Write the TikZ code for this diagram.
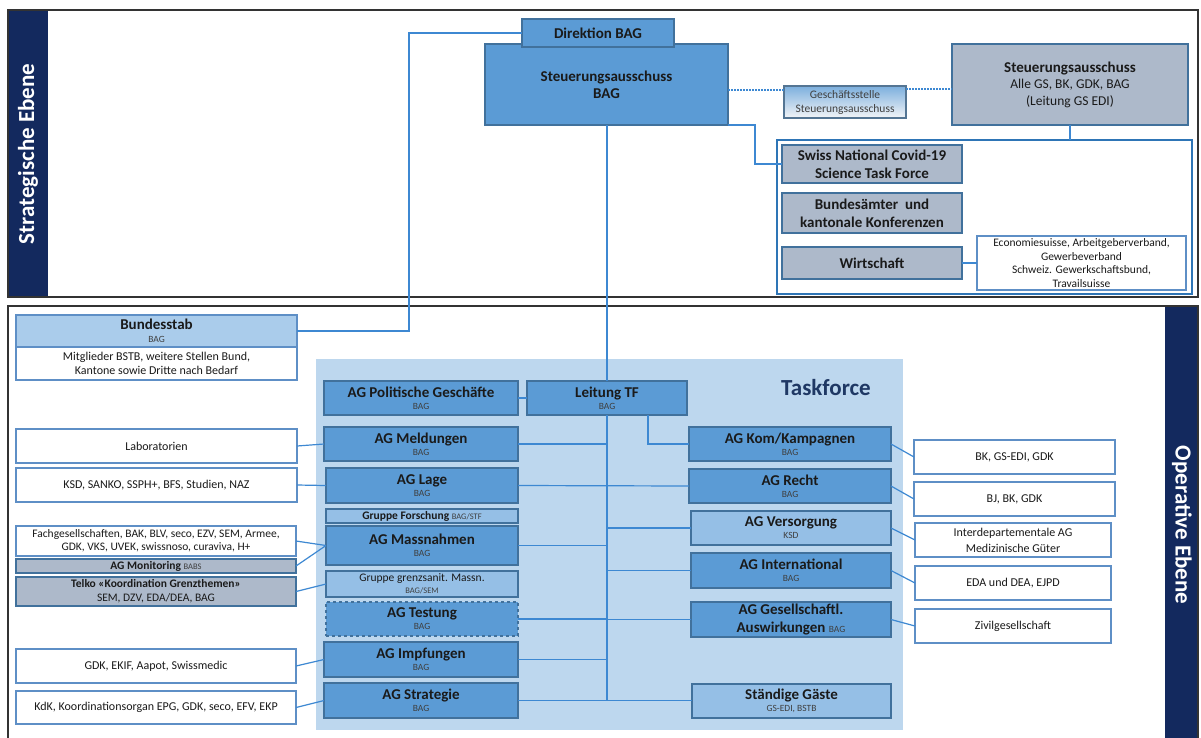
\documentclass[tikz,border=0pt]{standalone}
\usepackage{fontspec}
\setmainfont{Carlito}
\usetikzlibrary{calc}
\definecolor{agfill}{HTML}{5B9BD5}
\definecolor{agdraw}{HTML}{41719C}
\definecolor{ltfill}{HTML}{95BFE6}
\definecolor{tfbg}{HTML}{BDD7EE}
\definecolor{greyfill}{HTML}{ADB9CA}
\definecolor{navy}{HTML}{13295E}
\definecolor{conn}{HTML}{3D88D2}
\definecolor{wdraw}{HTML}{5E8FC6}
\definecolor{txt}{HTML}{1A1A1A}
\definecolor{subtxt}{HTML}{3F3F3F}
\definecolor{framec}{HTML}{333333}
\definecolor{tfnavy}{HTML}{1F3864}
\definecolor{bigblue}{HTML}{2E75B6}
\newcommand\fs[2]{\fontsize{#1}{#2}\selectfont}
\newcommand\bx[7]{\node[#2, minimum width={(#5-#3)*1pt}, minimum height={(#6-#4)*1pt}] (#1) at ({(#3+#5)/2},{(#4+#6)/2}) {#7};}
\newcommand\sbt[1]{\\[-6pt]{\fs{9.5}{10}\mdseries\color{subtxt}#1}}
\tikzset{
  base/.style={rectangle, inner sep=0pt, outer sep=0pt, align=center, text=txt},
  ag/.style={base, fill=agfill, draw=agdraw, line width=1.5pt, font=\fs{15}{18}\bfseries},
  agl/.style={ag, fill=ltfill},
  grey/.style={base, fill=greyfill, draw=agdraw, line width=1.5pt, font=\fs{15}{18}\bfseries},
  wbox/.style={base, fill=white, draw=wdraw, line width=1.3pt, font=\fs{12}{14}},
  gsbox/.style={base, top color=agfill!80!white, bottom color=white!85!greyfill, draw=agdraw!70!gray, line width=1.3pt, font=\fs{11.5}{14}, text=subtxt},
  bigbox/.style={base, draw=bigblue, line width=2pt},
  tfbox/.style={base, fill=tfbg},
  cn/.style={draw=conn, line width=1.2pt},
  dsh/.style={draw=conn, line width=1.4pt, dash pattern=on 2pt off 1pt},
  framel/.style={draw=framec, line width=2.2pt},
  bar/.style={fill=navy},
  barlabel/.style={text=white, font=\fs{23}{26}\bfseries, inner sep=0pt}
}
\begin{document}
\begin{tikzpicture}[x=1pt,y=-1pt]
\useasboundingbox (0,0) rectangle (1201,737);
\fill[white] (0,0) rectangle (1201,737);
% frames
\fill[bar] (8,10) rectangle (48,297);
\draw[framel] (8,10) rectangle (1198,297);
\fill[bar] (1165,306) rectangle (1198,745);
\draw[framel] (8,745) -- (8,306) -- (1198,306) -- (1198,745);
\node[barlabel, rotate=90] (strlab) at (28,154) {Strategische Ebene};
\node[barlabel, rotate=-90] (oplab) at (1182,525) {Operative Ebene};

% strategic level
\bx{sab}{ag}{485}{44}{728}{125}{Steuerungsausschuss\\[-1pt]BAG}
\bx{dir}{ag}{522}{19}{674}{47}{Direktion BAG}
\bx{gs}{gsbox}{784}{86}{906}{118}{Geschäftsstelle\\Steuerungsausschuss}
\bx{sag}{grey, font=\fs{13.5}{16.5}\mdseries}{952}{44}{1188}{125}{{\fs{15}{16.5}\bfseries Steuerungsausschuss}\\Alle GS, BK, GDK, BAG\\(Leitung GS EDI)}
\bx{bigr}{bigbox}{777}{140}{1192}{294}{}
\bx{sntf}{grey}{782}{145}{962}{183}{Swiss National Covid-19\\Science Task Force}
\bx{bund}{grey}{782}{193}{962}{233}{Bundesämter\ \ und\\kantonale Konferenzen}
\bx{wirt}{grey}{782}{247}{962}{279}{Wirtschaft}
\bx{econ}{wbox, font=\fs{11.5}{13.5}}{977}{236}{1186}{290}{Economiesuisse, Arbeitgeberverband,\\Gewerbeverband\\Schweiz. Gewerkschaftsbund,\\Travailsuisse}

\coordinate (y90) at (0,90);
\coordinate (y89) at (0,89);
\coordinate (sk) at (755,125);
\coordinate (dl) at (409,331);
\draw[dsh] (sab.east |- y90) -- (gs.west |- y90);
\draw[dsh] (gs.east |- y89) -- (sag.west |- y89);
\draw[cn] (sag.south) -- (bigr.north -| sag.south);
\draw[cn] (sab.south east) -- (sk) |- (sntf.west);
\draw[cn] (wirt.east) -- (econ.west);

% operative level
\bx{tf}{tfbox}{316}{359}{903}{730}{}
\node[text=tfnavy, font=\fs{23}{26}\bfseries, inner sep=0pt] (tflab) at (826,388) {Taskforce};

\bx{bstab}{base, fill=ltfill!80!white, draw=wdraw, line width=1.3pt, font=\fs{15}{18}\bfseries}{16}{315}{297}{347}{Bundesstab\\[-5pt]{\fs{9.5}{10}\mdseries\color{subtxt}BAG}}
\bx{bstabs}{wbox}{16}{347}{297}{380}{Mitglieder BSTB, weitere Stellen Bund,\\Kantone sowie Dritte nach Bedarf}
\bx{lab}{wbox}{16}{429}{297}{463}{Laboratorien}
\bx{ksd}{wbox}{16}{468}{297}{502}{KSD, SANKO, SSPH+, BFS, Studien, NAZ}
\bx{fach}{wbox, font=\fs{11.5}{13}}{16}{526}{296}{556}{Fachgesellschaften, BAK, BLV, seco, EZV, SEM, Armee,\\GDK, VKS, UVEK, swissnoso, curaviva, H+}
\bx{mon}{grey, font=\fs{11.5}{13}\bfseries}{16}{559}{296}{573}{AG Monitoring {\fs{8.5}{10}\mdseries\color{subtxt}BABS}}
\bx{telko}{grey, font=\fs{11.5}{14}\mdseries}{16}{577}{296}{606}{{\bfseries Telko «Koordination Grenzthemen»}\\SEM, DZV, EDA/DEA, BAG}
\bx{gdk}{wbox}{16}{649}{296}{683}{GDK, EKIF, Aapot, Swissmedic}
\bx{kdk}{wbox}{16}{691}{296}{724}{KdK, Koordinationsorgan EPG, GDK, seco, EFV, EKP}

\bx{pol}{ag}{324}{381}{518}{415}{AG Politische Geschäfte\sbt{BAG}}
\bx{leit}{ag}{527}{381}{687}{415}{Leitung TF\sbt{BAG}}
\bx{meld}{ag}{324}{427}{518}{461}{AG Meldungen\sbt{BAG}}
\bx{lage}{ag}{326}{468}{518}{503}{AG Lage\sbt{BAG}}
\bx{gfor}{agl, font=\fs{11.5}{13}\bfseries}{326}{509}{518}{523}{Gruppe Forschung {\fs{8.5}{10}\mdseries\color{subtxt}BAG/STF}}
\bx{mass}{ag}{326}{526}{518}{565}{AG Massnahmen\sbt{BAG}}
\bx{ggr}{agl, font=\fs{11.5}{14}\mdseries}{326}{571}{518}{597}{Gruppe grenzsanit. Massn.\\[-2pt]{\fs{8.5}{10}\color{subtxt}BAG/SEM}}
\bx{test}{ag, dashed}{326}{602}{518}{636}{AG Testung\sbt{BAG}}
\bx{impf}{ag}{324}{642}{518}{677}{AG Impfungen\sbt{BAG}}
\bx{strat}{ag}{324}{683}{518}{718}{AG Strategie\sbt{BAG}}

\bx{kom}{ag}{689}{427}{891}{461}{AG Kom/Kampagnen\sbt{BAG}}
\bx{recht}{ag}{689}{469}{891}{503}{AG Recht\sbt{BAG}}
\bx{vers}{agl}{691}{511}{891}{545}{AG Versorgung\sbt{KSD}}
\bx{intl}{ag}{691}{553}{891}{588}{AG International\sbt{BAG}}
\bx{ges}{ag}{691}{602}{891}{637}{AG Gesellschaftl.\\Auswirkungen {\fs{9.5}{10}\mdseries\color{subtxt}BAG}}
\bx{stg}{agl}{692}{684}{891}{718}{Ständige Gäste\sbt{GS-EDI, BSTB}}

\bx{bk}{wbox}{914}{440}{1115}{474}{BK, GS-EDI, GDK}
\bx{bj}{wbox}{914}{482}{1115}{516}{BJ, BK, GDK}
\bx{inter}{wbox, font=\fs{12}{16}}{915}{523}{1111}{557}{Interdepartementale AG\\Medizinische Güter}
\bx{eda}{wbox}{915}{566}{1111}{600}{EDA und DEA, EJPD}
\bx{ziv}{wbox}{915}{609}{1111}{643}{Zivilgesellschaft}

% connectors
\draw[cn] (dir.west) -| (dl) -- (bstab.east |- dl);
\draw[cn] (sab.south -| leit.north) -- (leit.north);
\draw[cn] (pol.east) -- (leit.west);
\draw[cn] (leit.south) -- (leit.south |- strat.east);
\coordinate (lb) at (648,415);
\draw[cn] (lb) |- (kom.west);
\draw[cn] (meld.east) -- (meld.east -| leit.south);
\draw[cn] (lage.east) -- (recht.west);
\draw[cn] (mass.east) -- (mass.east -| leit.south);
\draw[cn] (test.east) -- (test.east -| leit.south);
\draw[cn] (impf.east) -- (impf.east -| leit.south);
\draw[cn] (strat.east) -- (stg.west |- strat.east);
\draw[cn] (vers.west) -- (vers.west -| leit.south);
\draw[cn] (intl.west) -- (intl.west -| leit.south);
\draw[cn] (ges.west) -- (ges.west -| leit.south);

\draw[cn] (lab.east) -- (meld.west);
\draw[cn] (ksd.east) -- (lage.west);
\draw[cn] (fach.east) -- (mass.west);
\draw[cn] (mon.east) -- (mass.west);
\draw[cn] (telko.east) -- (ggr.west);
\draw[cn] (gdk.east) -- (impf.west);
\draw[cn] (kdk.east) -- (strat.west);

\draw[cn] (kom.east) -- (bk.west);
\draw[cn] (recht.east) -- (bj.west);
\draw[cn] (vers.east) -- (inter.west);
\draw[cn] (intl.east) -- (eda.west);
\draw[cn] (ges.east) -- (ziv.west);
\end{tikzpicture}
\end{document}
